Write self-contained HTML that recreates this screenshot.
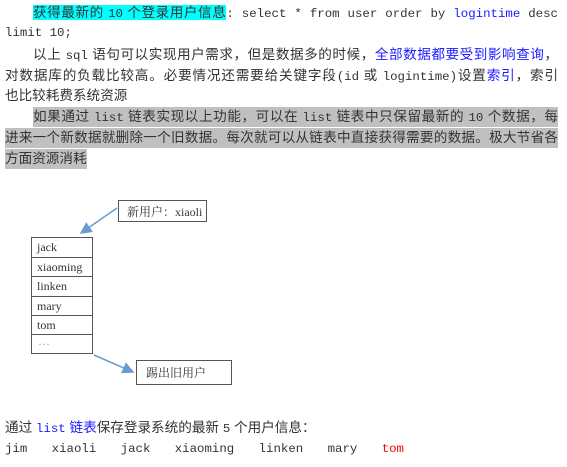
<!DOCTYPE html>
<html><head><meta charset="utf-8"><style>
body{margin:0;width:567px;height:467px;background:#fff;position:relative;overflow:hidden;font-family:"Liberation Sans","Noto Sans CJK SC",sans-serif;font-size:13.6px;color:#333}
.l{position:absolute;white-space:nowrap;line-height:20px;height:20px;text-align:justify;text-align-last:justify}
.m{font-family:"Liberation Mono",monospace;font-size:12.4px}
.b{color:#1a1aff}
.cy{background:#00ffff}
.g{background:#c0c0c0}
.box{position:absolute;border:1px solid #555;font-family:"Liberation Serif","Noto Serif CJK SC",serif;font-size:12px;color:#333}
</style></head><body>
<div class="l" style="left:33px;top:3px;width:525px"><span class="cy">获得最新的 <span class="m">10</span> 个登录用户信息</span><span class="m">: select * from user order by <span class="b">logintime</span> desc</span></div>
<div class="l m" style="left:5px;top:23px;text-align-last:left">limit 10;</div>
<div class="l" style="left:33px;top:45px;width:525px">以上 <span class="m">sql</span> 语句可以实现用户需求，但是数据多的时候，<span class="b">全部数据都要受到影响查询</span>，</div>
<div class="l" style="left:5px;top:66px;width:553px">对数据库的负载比较高。必要情况还需要给关键字段<span class="m">(id</span> 或 <span class="m">logintime)</span>设置<span class="b">索引</span>，索引</div>
<div class="l" style="left:5px;top:86px;text-align-last:left">也比较耗费系统资源</div>
<div class="l g" style="left:33px;top:107px;width:525px">如果通过 <span class="m">list</span> 链表实现以上功能，可以在 <span class="m">list</span> 链表中只保留最新的 <span class="m">10</span> 个数据，每</div>
<div class="l g" style="left:5px;top:128px;width:553px">进来一个新数据就删除一个旧数据。每次就可以从链表中直接获得需要的数据。极大节省各</div>
<div class="l g" style="left:5px;top:149px;text-align-last:left">方面资源消耗</div>

<svg style="position:absolute;left:0;top:0" width="567" height="467">
<defs><marker id="a" markerWidth="8" markerHeight="8" refX="7" refY="4" orient="auto"><path d="M0,0 L8,4 L0,8 z" fill="#6a9bd0"/></marker></defs>
<line x1="117" y1="208" x2="81" y2="233" stroke="#6a9bd0" stroke-width="1.5" marker-end="url(#a)"/>
<line x1="94" y1="355" x2="133" y2="372" stroke="#6a9bd0" stroke-width="1.5" marker-end="url(#a)"/>
</svg>
<div class="box" style="left:118px;top:200px;width:89px;height:22px;line-height:22px;padding-left:8px;box-sizing:border-box">新用户：xiaoli</div>
<div class="box" style="left:136px;top:360px;width:96px;height:25px;line-height:25px;padding-left:9px;box-sizing:border-box">踢出旧用户</div>
<div class="box" style="left:31px;top:237px;width:62px;height:117px;box-sizing:border-box">
<div style="height:19.5px;line-height:18px;border-bottom:1px solid #555;padding-left:5px;box-sizing:border-box">jack</div>
<div style="height:19.5px;line-height:18px;border-bottom:1px solid #555;padding-left:5px;box-sizing:border-box">xiaoming</div>
<div style="height:19.5px;line-height:18px;border-bottom:1px solid #555;padding-left:5px;box-sizing:border-box">linken</div>
<div style="height:19.5px;line-height:18px;border-bottom:1px solid #555;padding-left:5px;box-sizing:border-box">mary</div>
<div style="height:19px;line-height:18px;border-bottom:1px solid #555;padding-left:5px;box-sizing:border-box">tom</div>
<div style="height:18px;line-height:18px;padding-left:6px;color:#999">···</div>
</div>

<div class="l" style="left:5px;top:418px;text-align-last:left">通过 <span class="m b">list</span> <span class="b">链表</span>保存登录系统的最新 <span class="m">5</span> 个用户信息：</div>
<div class="l m" style="left:5px;top:439px;width:399px">jim xiaoli jack xiaoming linken mary <span style="color:#f00">tom</span></div>
</body></html>
